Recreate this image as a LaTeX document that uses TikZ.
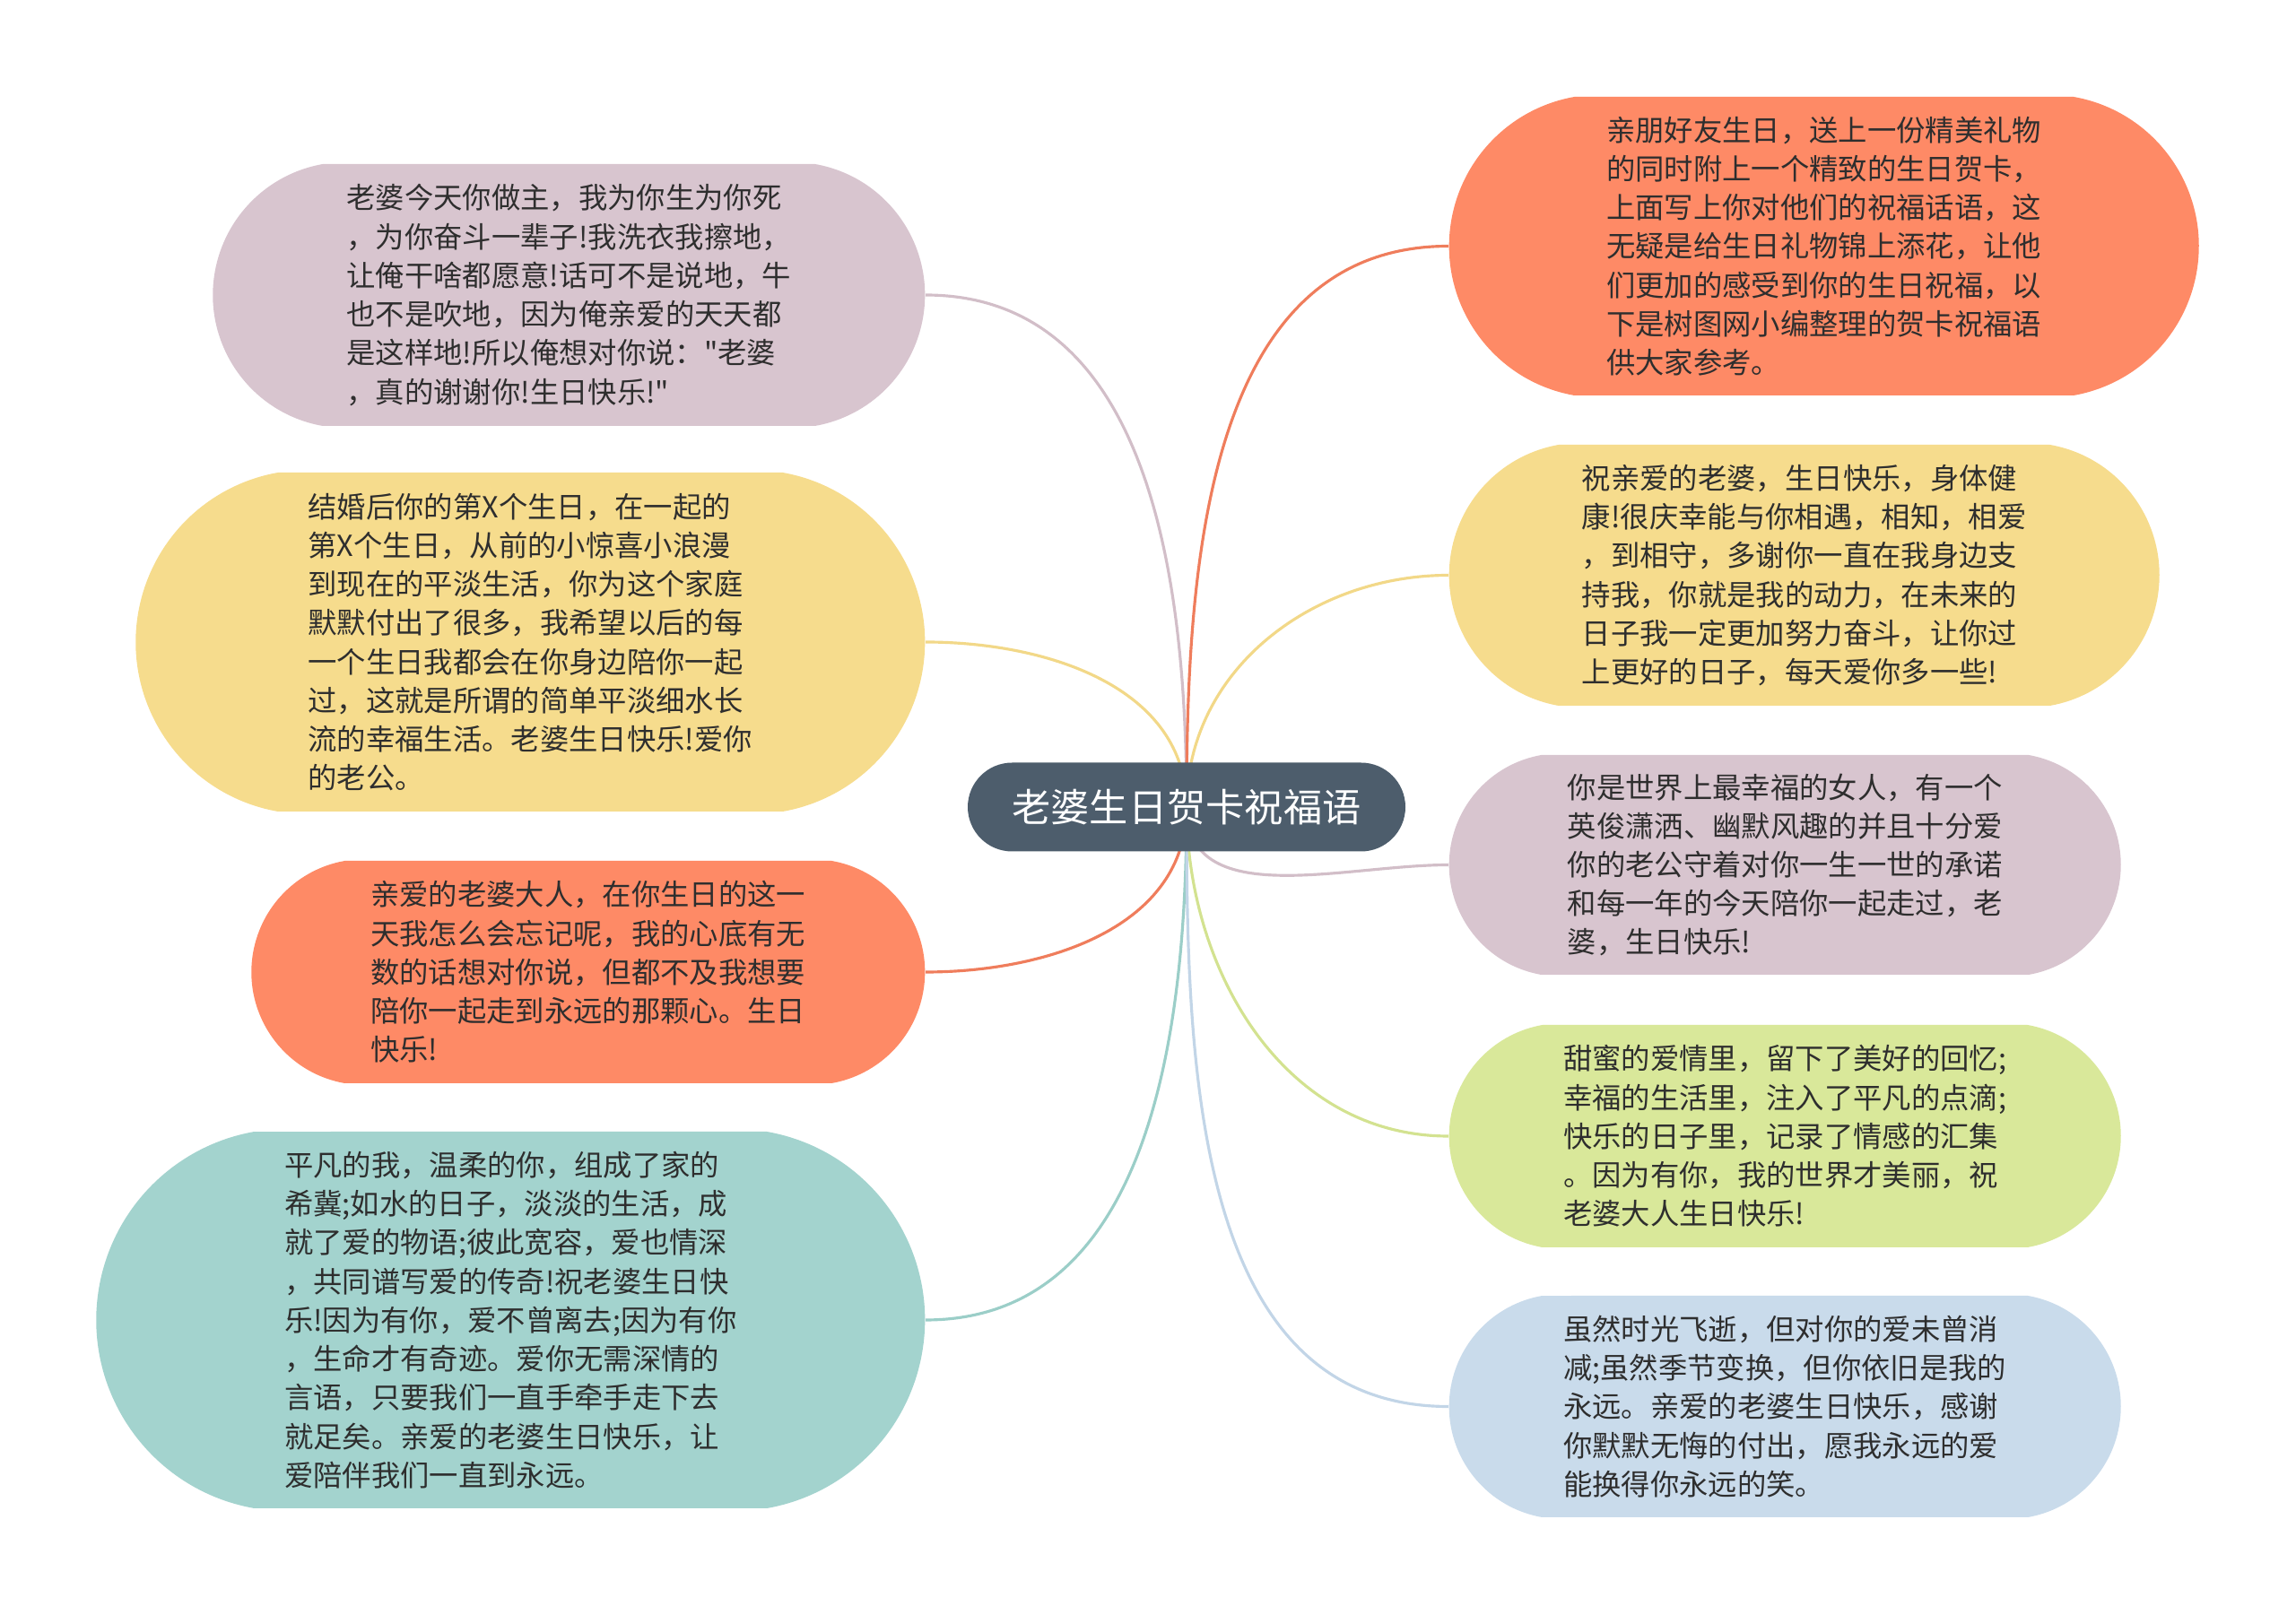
\documentclass[tikz,border=0pt]{standalone}
\usepackage{fontspec}
\setmainfont{Noto Sans CJK SC}[Ligatures=TeXOff]
\usepackage{tikz}
\usetikzlibrary{positioning,shapes.misc,backgrounds}

\definecolor{rootfill}{HTML}{4D5D6C}
\definecolor{mauvefill}{HTML}{D8C5CF}
\definecolor{mauveline}{HTML}{D2BEC8}
\definecolor{yellowfill}{HTML}{F6DC8D}
\definecolor{yellowline}{HTML}{F2D888}
\definecolor{salmonfill}{HTML}{FE8A66}
\definecolor{salmonline}{HTML}{EF7D5C}
\definecolor{tealfill}{HTML}{A3D3CE}
\definecolor{tealline}{HTML}{9BCEC8}
\definecolor{greenfill}{HTML}{D9E89A}
\definecolor{greenline}{HTML}{D3E290}
\definecolor{bluefill}{HTML}{C9DBEB}
\definecolor{blueline}{HTML}{C2D5E7}
\definecolor{cardtext}{HTML}{2E2E2E}

\tikzset{
  branch/.style   = {line width=0.9pt},
  card/.style     = {rounded rectangle, rounded rectangle arc length=160,
                     inner sep=0pt, align=left, text=cardtext,
                     font=\fontsize{9.2}{12.3}\selectfont},
  rootbox/.style  = {rounded rectangle, fill=rootfill, text=white, inner sep=0pt,
                     minimum width=4.88cm, minimum height=0.99cm,
                     font=\fontsize{12.3}{14}\selectfont},
}

\begin{document}
\begin{tikzpicture}[
    leftcard/.style={card, anchor=east},
    rightcard/.style={card, anchor=west},
  ]
  \useasboundingbox (0,0) rectangle (25.6,18.01);

  % ---- centre topic -------------------------------------------------------
  \node[rootbox] (root) at (13.23,9.01) {老婆生日贺卡祝福语};

  % ---- left-hand cards ----------------------------------------------------
  \node[leftcard, fill=mauvefill, minimum width=7.94cm, minimum height=2.92cm]
       (l1) at (10.32,14.72)
       {老婆今天你做主，我为你生为你死\\，为你奋斗一辈子!我洗衣我擦地，\\让俺干啥都愿意!话可不是说地，牛\\也不是吹地，因为俺亲爱的天天都\\是这样地!所以俺想对你说："老婆\\，真的谢谢你!生日快乐!"};
  \node[leftcard, fill=yellowfill, minimum width=8.80cm, minimum height=3.78cm]
       (l2) at (10.32,10.85)
       {结婚后你的第X个生日，在一起的\\第X个生日，从前的小惊喜小浪漫\\到现在的平淡生活，你为这个家庭\\默默付出了很多，我希望以后的每\\一个生日我都会在你身边陪你一起\\过，这就是所谓的简单平淡细水长\\流的幸福生活。老婆生日快乐!爱你\\的老公。};
  \node[leftcard, fill=salmonfill, minimum width=7.51cm, minimum height=2.48cm]
       (l3) at (10.32,7.17)
       {亲爱的老婆大人，在你生日的这一\\天我怎么会忘记呢，我的心底有无\\数的话想对你说，但都不及我想要\\陪你一起走到永远的那颗心。生日\\快乐!};
  \node[leftcard, fill=tealfill, minimum width=9.24cm, minimum height=4.20cm]
       (l4) at (10.32,3.29)
       {平凡的我，温柔的你，组成了家的\\希冀;如水的日子，淡淡的生活，成\\就了爱的物语;彼此宽容，爱也情深\\，共同谱写爱的传奇!祝老婆生日快\\乐!因为有你，爱不曾离去;因为有你\\，生命才有奇迹。爱你无需深情的\\言语，只要我们一直手牵手走下去\\就足矣。亲爱的老婆生日快乐，让\\爱陪伴我们一直到永远。};

  % ---- right-hand cards ---------------------------------------------------
  \node[rightcard, fill=salmonfill, minimum width=8.36cm, minimum height=3.33cm]
       (r1) at (16.15,15.265)
       {亲朋好友生日，送上一份精美礼物\\的同时附上一个精致的生日贺卡，\\上面写上你对他们的祝福话语，这\\无疑是给生日礼物锦上添花，让他\\们更加的感受到你的生日祝福，以\\下是树图网小编整理的贺卡祝福语\\供大家参考。};
  \node[rightcard, fill=yellowfill, minimum width=7.92cm, minimum height=2.91cm]
       (r2) at (16.15,11.595)
       {祝亲爱的老婆，生日快乐，身体健\\康!很庆幸能与你相遇，相知，相爱\\，到相守，多谢你一直在我身边支\\持我，你就是我的动力，在未来的\\日子我一定更加努力奋斗，让你过\\上更好的日子，每天爱你多一些!};
  \node[rightcard, fill=mauvefill, minimum width=7.49cm, minimum height=2.45cm]
       (r3) at (16.15,8.365)
       {你是世界上最幸福的女人，有一个\\英俊潇洒、幽默风趣的并且十分爱\\你的老公守着对你一生一世的承诺\\和每一年的今天陪你一起走过，老\\婆，生日快乐!};
  \node[rightcard, fill=greenfill, minimum width=7.49cm, minimum height=2.48cm]
       (r4) at (16.15,5.34)
       {甜蜜的爱情里，留下了美好的回忆;\\幸福的生活里，注入了平凡的点滴;\\快乐的日子里，记录了情感的汇集\\。因为有你，我的世界才美丽，祝\\老婆大人生日快乐!};
  \node[rightcard, fill=bluefill, minimum width=7.49cm, minimum height=2.47cm]
       (r5) at (16.15,2.325)
       {虽然时光飞逝，但对你的爱未曾消\\减;虽然季节变换，但你依旧是我的\\永远。亲爱的老婆生日快乐，感谢\\你默默无悔的付出，愿我永远的爱\\能换得你永远的笑。};

  % ---- branches, kept under the cards -------------------------------------
  \begin{scope}[on background layer]
    \foreach \n/\c/\o in {l1/mauveline/90, l2/yellowline/90,
                          l3/salmonline/-90, l4/tealline/-90}
      \draw[branch, \c] (root.center) to[out=\o, in=0] (\n.east);
    \foreach \n/\c/\o in {r1/salmonline/90, r2/yellowline/90, r3/mauveline/-90,
                          r4/greenline/-90, r5/blueline/-90}
      \draw[branch, \c] (root.center) to[out=\o, in=180] (\n.west);
  \end{scope}
\end{tikzpicture}
\end{document}
